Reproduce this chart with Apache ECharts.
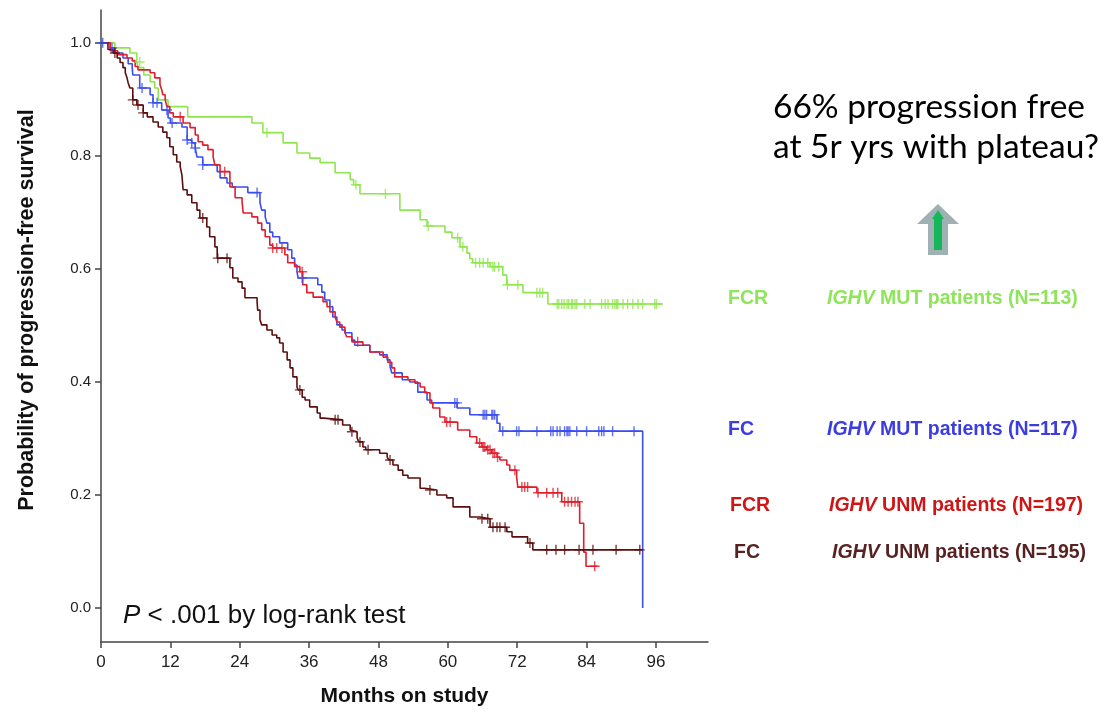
<!DOCTYPE html>
<html>
<head>
<meta charset="utf-8">
<script src="https://cdn.jsdelivr.net/npm/echarts@6/dist/echarts.min.js"></script>
<style>
  html, body { margin: 0; padding: 0; background: #fff; }
  #chart { width: 1118px; height: 712px; }
</style>
</head>
<body>
<div id="chart"></div>
<script>
// x ticks (months) and y ticks (probability)
var monthTicks = [0, 12, 24, 36, 48, 60, 72, 84, 96];
var probTicks = [0, 0.2, 0.4, 0.6, 0.8, 1.0];

// Kaplan-Meier steps: [month of event, survival after it]
var fcrMut = [[0,1.0],[2.4,0.991],[5.0,0.982],[6.2,0.966],[6.4,0.956],[7.4,0.943],[8.5,0.931],[9.3,0.920],[9.9,0.899],[11.6,0.887],[15.0,0.869],[26.1,0.858],[28.0,0.841],[31.5,0.823],[33.9,0.805],[36.1,0.796],[37.9,0.788],[40.5,0.770],[43.1,0.758],[43.7,0.749],[44.8,0.733],[51.7,0.704],[55.2,0.687],[56.4,0.676],[59.5,0.665],[60.7,0.655],[62.1,0.639],[63.3,0.628],[63.8,0.618],[64.3,0.611],[67.3,0.604],[69.5,0.589],[70.2,0.572],[73.0,0.558],[77.3,0.538],[97.2,0.538]];
var fcrMutCens = [[6.7,0.966],[28.7,0.841],[44.1,0.749],[49.2,0.733],[56.6,0.676],[61.7,0.655],[62.6,0.639],[64.8,0.611],[65.5,0.611],[66.1,0.611],[66.9,0.611],[67.8,0.604],[68.1,0.604],[68.8,0.604],[70.3,0.572],[72.1,0.572],[75.4,0.558],[75.9,0.558],[76.4,0.558],
  [78.9,0.538],[79.2,0.538],[79.7,0.538],[80.1,0.538],[80.6,0.538],[80.9,0.538],[81.4,0.538],[81.6,0.538],[82.0,0.538],[82.3,0.538],[83.7,0.538],[84.6,0.538],[86.6,0.538],[87.2,0.538],[87.7,0.538],[88.5,0.538],[88.9,0.538],[89.2,0.538],[89.4,0.538],[90.3,0.538],[91.1,0.538],[92.0,0.538],[92.9,0.538],[93.7,0.538],[95.8,0.538],[96.1,0.538]];

var fcMut = [[0,1.0],[1.6,0.991],[2.4,0.982],[3.8,0.973],[4.7,0.963],[5.4,0.956],[5.5,0.943],[6.7,0.920],[8.5,0.908],[9.0,0.894],[10.5,0.881],[11.6,0.867],[12.0,0.858],[14.0,0.851],[14.9,0.828],[15.7,0.823],[16.3,0.814],[16.6,0.798],[17.6,0.784],[20.1,0.772],[20.6,0.761],[21.8,0.752],[22.7,0.745],[25.4,0.735],[27.5,0.717],[27.8,0.704],[28.4,0.692],[28.7,0.681],[29.2,0.665],[29.7,0.657],[30.9,0.646],[32.3,0.634],[33.0,0.619],[33.5,0.607],[33.9,0.595],[34.1,0.584],[37.5,0.572],[38.2,0.559],[38.7,0.545],[39.6,0.533],[40.1,0.515],[40.8,0.501],[41.7,0.492],[42.2,0.487],[43.4,0.474],[43.9,0.465],[46.5,0.453],[48.2,0.448],[49.5,0.439],[50.0,0.427],[50.3,0.416],[52.1,0.404],[53.4,0.400],[54.8,0.382],[56.4,0.368],[57.2,0.363],[61.6,0.354],[63.8,0.342],[68.5,0.327],[69.0,0.313],[93.7,0.313],[93.7,0.0]];
var fcMutCens = [[0.3,1.0],[1.9,0.991],[7.1,0.920],[9.0,0.894],[9.7,0.894],[11.4,0.881],[12.3,0.858],[14.9,0.828],[15.7,0.823],[16.3,0.814],[17.6,0.784],[27.0,0.735],[34.8,0.584],[61.2,0.363],[61.6,0.363],[66.1,0.342],[66.4,0.342],[66.7,0.342],[67.6,0.342],[67.8,0.342],[68.1,0.342],
  [69.5,0.313],[71.9,0.313],[72.3,0.313],[75.4,0.313],[77.8,0.313],[78.2,0.313],[78.9,0.313],[79.4,0.313],[80.2,0.313],[80.6,0.313],[80.8,0.313],[81.1,0.313],[82.3,0.313],[84.0,0.313],[86.1,0.313],[86.6,0.313],[87.0,0.313],[88.5,0.313],[92.2,0.313]];

var fcrUnm = [[0,1.0],[1.6,0.986],[2.9,0.979],[4.5,0.973],[5.4,0.968],[5.9,0.958],[6.4,0.952],[8.5,0.947],[9.3,0.938],[10.2,0.926],[10.5,0.917],[10.7,0.908],[11.1,0.899],[11.4,0.887],[11.9,0.876],[12.5,0.869],[14.2,0.858],[15.4,0.850],[16.3,0.837],[16.8,0.825],[17.6,0.819],[18.5,0.811],[19.4,0.798],[19.7,0.784],[20.6,0.772],[22.3,0.745],[23.2,0.726],[24.4,0.719],[24.6,0.699],[26.1,0.692],[27.1,0.681],[27.8,0.669],[28.4,0.657],[29.2,0.642],[29.7,0.637],[31.8,0.625],[32.3,0.611],[33.5,0.604],[34.4,0.595],[34.9,0.572],[35.6,0.558],[36.7,0.550],[38.4,0.542],[39.1,0.533],[39.6,0.524],[40.5,0.515],[40.8,0.506],[41.3,0.497],[42.2,0.487],[42.5,0.480],[43.4,0.471],[45.3,0.465],[46.5,0.453],[48.8,0.444],[49.6,0.435],[50.3,0.425],[50.8,0.409],[53.1,0.404],[54.3,0.398],[55.2,0.391],[56.0,0.381],[56.9,0.363],[57.4,0.354],[58.6,0.338],[59.5,0.329],[61.7,0.315],[63.8,0.303],[65.0,0.292],[65.9,0.285],[66.7,0.280],[67.6,0.274],[68.5,0.267],[69.0,0.262],[70.2,0.253],[70.7,0.244],[71.9,0.232],[72.1,0.214],[75.4,0.204],[79.7,0.188],[82.8,0.150],[83.5,0.099],[83.9,0.074],[85.9,0.074]];
var fcrUnmCens = [[13.7,0.869],[21.4,0.772],[29.7,0.637],[30.4,0.637],[31.3,0.637],[34.8,0.595],[44.4,0.471],[59.8,0.329],[60.4,0.329],[65.5,0.292],[66.1,0.285],[66.4,0.285],[66.9,0.280],[67.3,0.280],[67.8,0.274],[68.1,0.274],[68.6,0.267],[71.6,0.244],[72.8,0.214],[73.3,0.214],[73.8,0.214],[75.6,0.204],[77.1,0.204],[78.2,0.204],[79.0,0.204],[80.2,0.188],[80.8,0.188],[81.4,0.188],[82.0,0.188],[82.5,0.188],[85.4,0.074]];

var fcUnm = [[0,1.0],[1.2,0.988],[2.1,0.982],[2.8,0.973],[3.3,0.965],[3.8,0.956],[4.2,0.947],[4.5,0.938],[4.7,0.929],[5.0,0.920],[5.5,0.899],[6.2,0.890],[7.3,0.876],[8.0,0.869],[9.0,0.860],[9.9,0.851],[10.7,0.842],[11.4,0.832],[11.9,0.816],[12.5,0.802],[13.1,0.789],[13.7,0.781],[14.0,0.766],[14.2,0.740],[14.9,0.731],[15.7,0.717],[16.6,0.704],[17.1,0.690],[18.3,0.674],[18.8,0.657],[19.7,0.639],[20.1,0.619],[22.3,0.602],[22.8,0.584],[23.7,0.577],[24.4,0.566],[24.9,0.549],[27.0,0.542],[27.1,0.527],[27.5,0.510],[27.8,0.501],[28.7,0.492],[29.6,0.483],[30.4,0.478],[30.9,0.469],[31.5,0.453],[32.2,0.439],[32.7,0.425],[33.2,0.409],[33.9,0.391],[34.1,0.386],[34.8,0.373],[35.3,0.368],[36.1,0.356],[37.4,0.345],[37.9,0.336],[38.5,0.333],[41.8,0.324],[43.1,0.315],[43.3,0.312],[44.3,0.301],[44.6,0.294],[45.3,0.285],[45.8,0.280],[48.2,0.274],[49.5,0.267],[49.8,0.262],[50.5,0.253],[51.4,0.244],[52.2,0.235],[53.1,0.230],[55.2,0.212],[56.0,0.209],[58.1,0.200],[59.8,0.195],[60.9,0.179],[63.8,0.161],[65.5,0.158],[67.3,0.143],[70.2,0.135],[71.1,0.126],[73.8,0.115],[74.7,0.103],[93.7,0.103]];
var fcUnmCens = [[2.4,0.982],[5.5,0.899],[6.4,0.890],[7.3,0.876],[17.6,0.690],[20.2,0.619],[21.8,0.619],[34.4,0.386],[40.5,0.333],[41.0,0.333],[43.4,0.312],[44.8,0.294],[46.2,0.280],[50.0,0.262],[56.9,0.209],[65.9,0.158],[66.9,0.158],[67.8,0.143],[68.5,0.143],[69.0,0.143],[69.9,0.143],[74.2,0.115],[77.1,0.103],[78.7,0.103],[80.2,0.103],[82.7,0.103],[85.1,0.103],[89.1,0.103],[93.2,0.103]];

var groups = [
  { name: 'FCR IGHV MUT', steps: fcrMut, cens: fcrMutCens, color: '#8ee64f' },
  { name: 'FC IGHV MUT', steps: fcMut, cens: fcMutCens, color: '#3a4df0' },
  { name: 'FCR IGHV UNM', steps: fcrUnm, cens: fcrUnmCens, color: '#e01e2c' },
  { name: 'FC IGHV UNM', steps: fcUnm, cens: fcUnmCens, color: '#5e0d0d' }
];

var plus = 'path://M0,43 L100,43 L100,57 L0,57 Z M43,0 L57,0 L57,100 L43,100 Z';

var series = [];
groups.forEach(function (g) {
  series.push({
    name: g.name, type: 'line', step: 'end', data: g.steps,
    showSymbol: false, lineStyle: { color: g.color, width: 1.6 }, z: 2
  });
  series.push({
    name: g.name + ' censored', type: 'scatter', data: g.cens,
    symbol: plus, symbolSize: 10, itemStyle: { color: g.color }, z: 3
  });
});

var font = '"Liberation Sans", Arial, sans-serif';
var legendRows = [
  { arm: 'FCR', rest: ' MUT patients (N=113)', color: '#8ee45a', y: 299, armX: 728, textX: 827 },
  { arm: 'FC', rest: ' MUT patients (N=117)', color: '#3b3de2', y: 430, armX: 728, textX: 827 },
  { arm: 'FCR', rest: ' UNM patients (N=197)', color: '#cf1515', y: 506, armX: 730, textX: 829 },
  { arm: 'FC', rest: ' UNM patients (N=195)', color: '#582222', y: 553, armX: 734, textX: 832 }
];
var graphics = [];
legendRows.forEach(function (r) {
  graphics.push({ type: 'text', x: r.armX, y: r.y, style: {
    text: r.arm, fill: r.color, font: 'bold 19.5px ' + font, textVerticalAlign: 'middle' } });
  graphics.push({ type: 'text', x: r.textX, y: r.y, style: {
    text: '{i|IGHV}' + r.rest, fill: r.color, font: 'bold 19.5px ' + font, textVerticalAlign: 'middle',
    rich: { i: { fontStyle: 'italic', fontWeight: 'bold', fontSize: 19.5, fontFamily: font, fill: r.color } } } });
});

// y axis title
graphics.push({ type: 'text', x: 27, y: 310, rotation: Math.PI / 2, style: {
  text: 'Probability of progression-free survival', fill: '#111', font: 'bold 21.5px ' + font,
  textAlign: 'center', textVerticalAlign: 'middle' } });

// p value note
graphics.push({ type: 'text', x: 123, y: 616, style: {
  text: '{p|P} < .001 by log-rank test', fill: '#111', font: '26px ' + font, textVerticalAlign: 'middle',
  rich: { p: { fontStyle: 'italic', fontSize: 26, fontFamily: font, fill: '#111' } } } });

// annotation + arrow
var noteFont = '33.5px Lato, "Open Sans", sans-serif';
graphics.push({ type: 'text', x: 773, y: 107, style: {
  text: '66% progression free', fill: '#000', font: noteFont, textVerticalAlign: 'middle' } });
graphics.push({ type: 'text', x: 773, y: 147, style: {
  text: 'at 5r yrs with plateau?', fill: '#000', font: noteFont, textVerticalAlign: 'middle' } });
graphics.push({ type: 'polygon', shape: { points: [[938,204],[959,224],[948,224],[948,255],[928,255],[928,224],[917,224]] },
  style: { fill: '#9fb1b3' } });
graphics.push({ type: 'polygon', shape: { points: [[938,210],[944,219],[942,219],[942,250],[934,250],[934,219],[932,219]] },
  style: { fill: '#14b85a' } });

var chart = echarts.init(document.getElementById('chart'));
chart.setOption({
  animation: false,
  backgroundColor: '#fff',
  grid: { left: 101, right: 410, top: 10, bottom: 70, containLabel: false },
  xAxis: {
    type: 'value', min: 0, max: 105,
    name: 'Months on study', nameLocation: 'middle', nameGap: 44,
    nameTextStyle: { fontFamily: font, fontWeight: 'bold', fontSize: 21, color: '#111' },
    axisLine: { onZero: false, lineStyle: { color: '#444', width: 1.5 } },
    axisTick: { customValues: monthTicks, length: 6, lineStyle: { color: '#444', width: 1.5 } },
    axisLabel: { customValues: monthTicks, margin: 12, fontFamily: font, fontSize: 17, color: '#222' },
    splitLine: { show: false }
  },
  yAxis: {
    type: 'value', min: -0.06, max: 1.058,
    axisLine: { show: true, onZero: false, lineStyle: { color: '#444', width: 1.5 } },
    axisTick: { show: true, customValues: probTicks, length: 6, lineStyle: { color: '#444', width: 1.5 } },
    axisLabel: { customValues: probTicks, margin: 10, fontFamily: font, fontSize: 15, color: '#222',
      formatter: function (v) { return v.toFixed(1); } },
    splitLine: { show: false }
  },
  series: series,
  graphic: graphics
});
</script>
</body>
</html>
